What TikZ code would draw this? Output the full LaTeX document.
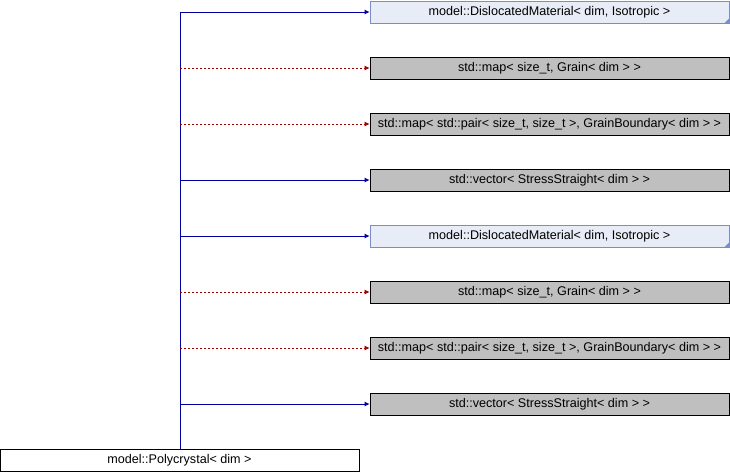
\documentclass[tikz,border=0pt]{standalone}
\usepackage{fontspec}
\setmainfont{Liberation Sans}
\usetikzlibrary{arrows.meta}
\definecolor{edgeblue}{HTML}{0000A0}
\definecolor{edgered}{HTML}{9A0000}
\definecolor{boxgray}{HTML}{BFBFBF}
\definecolor{lbfill}{HTML}{E8ECF6}
\definecolor{lbdraw}{HTML}{7A8DC8}
\tikzset{
  boxfont/.style={font=\fontsize{12.6}{14}\selectfont},
  graybox/.style={draw=black, fill=boxgray, minimum width=359pt, minimum height=22pt, inner sep=0pt, boxfont, line width=0.8pt},
  bluebox/.style={draw=lbdraw, fill=lbfill, minimum width=359pt, minimum height=22pt, inner sep=0pt, boxfont, line width=0.8pt},
  whitebox/.style={draw=black, fill=white, minimum width=359pt, minimum height=22pt, inner sep=0pt, boxfont, line width=0.8pt},
  usesolid/.style={draw=edgeblue, line width=0.8pt, -{Latex[length=5pt,width=5pt]}},
  usedash/.style={draw=edgered, line width=0.8pt, dash pattern=on 2pt off 2pt, -{Latex[length=5pt,width=5pt]}},
}
\newcommand{\cornermark}[1]{\fill[lbdraw] ([xshift=0.4pt,yshift=-0.4pt]#1.south east) -- ++(0,6pt) -- ++(-6pt,-6pt) -- cycle;}
\begin{document}
\begin{tikzpicture}[x=1pt,y=-1pt]
\useasboundingbox (0,0) rectangle (730,472);
\node[bluebox] (n1) at (549.5,12) {model::DislocatedMaterial< dim, Isotropic >};
\node[graybox] (n2) at (549.5,68) {std::map< size\_t, Grain< dim > >};
\node[graybox] (n3) at (549.5,124) {std::map< std::pair< size\_t, size\_t >, GrainBoundary< dim > >};
\node[graybox] (n4) at (549.5,180) {std::vector< StressStraight< dim > >};
\node[bluebox] (n5) at (549.5,236) {model::DislocatedMaterial< dim, Isotropic >};
\node[graybox] (n6) at (549.5,292) {std::map< size\_t, Grain< dim > >};
\node[graybox] (n7) at (549.5,348) {std::map< std::pair< size\_t, size\_t >, GrainBoundary< dim > >};
\node[graybox] (n8) at (549.5,404) {std::vector< StressStraight< dim > >};
\node[whitebox] (p) at (179.5,460) {model::Polycrystal< dim >};
\cornermark{n1}
\cornermark{n5}
\coordinate (top) at (180,12);
\draw[edgeblue, line width=0.8pt] (p.north -| top) -- (top);
\draw[usesolid] (top) -- (n1.west);
\draw[usedash] (n2.west -| top) -- (n2.west);
\draw[usedash] (n3.west -| top) -- (n3.west);
\draw[usesolid] (n4.west -| top) -- (n4.west);
\draw[usesolid] (n5.west -| top) -- (n5.west);
\draw[usedash] (n6.west -| top) -- (n6.west);
\draw[usedash] (n7.west -| top) -- (n7.west);
\draw[usesolid] (n8.west -| top) -- (n8.west);
\end{tikzpicture}
\end{document}
